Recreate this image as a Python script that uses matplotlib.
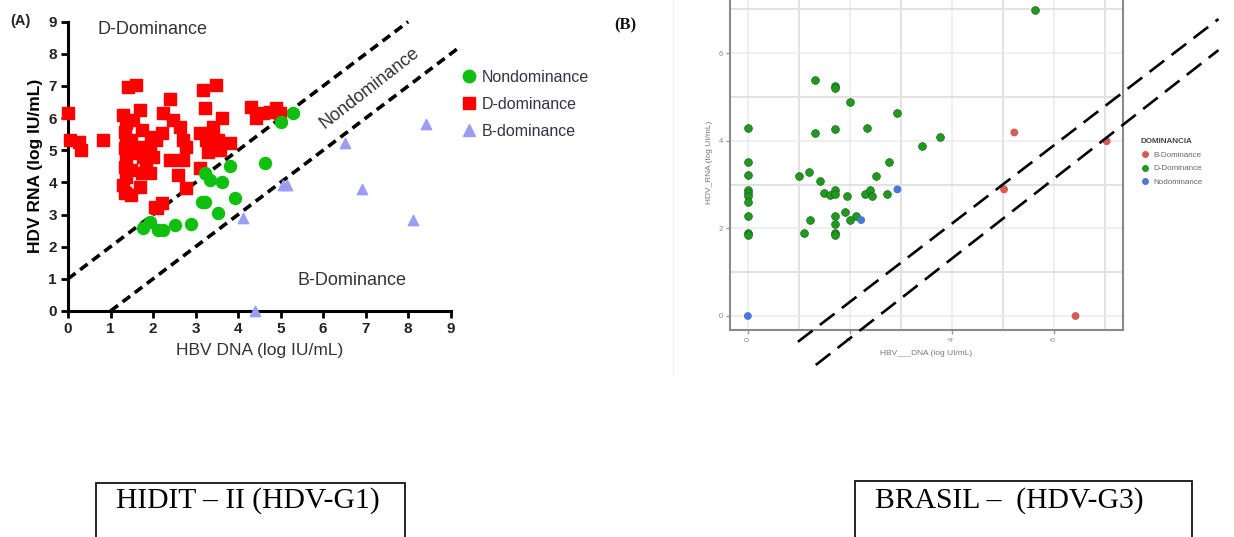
import numpy as np
import matplotlib.pyplot as plt
from matplotlib.lines import Line2D
from matplotlib.patches import Rectangle

W, H = 1234, 537

def fx(px):
    return px / W

def fy(py):
    return 1 - py / H

# ---------------- panel A data (HIDIT-II)
d_x = [0, 0.04, 0.27, 0.31, 0.82, 1.41, 1.61, 1.29, 1.37, 1.33, 1.37, 1.33, 1.37, 1.33, 1.37,
       1.29, 1.33, 1.49, 1.49, 1.53, 1.49, 1.53, 1.69, 1.73, 1.69, 1.76, 1.73, 1.69, 1.84, 1.92,
       1.96, 2.0, 1.92, 2.08, 2.2, 2.24, 2.39, 2.47, 2.63, 2.71, 2.78, 2.39, 2.71, 2.59, 2.78,
       2.04, 2.1, 2.2, 3.1, 3.18, 3.22, 3.25, 3.29, 3.1, 3.49, 3.41, 3.53, 3.61, 3.8, 3.57, 3.33,
       4.31, 4.43, 4.59, 4.75, 4.9, 4.98]
d_y = [6.17, 5.32, 5.27, 5.0, 5.32, 6.98, 7.03, 6.1, 5.84, 5.58, 5.32, 5.06, 4.8, 4.49, 4.18,
       3.92, 3.66, 3.61, 4.39, 4.9, 5.32, 5.94, 6.25, 5.63, 5.11, 4.8, 4.28, 3.87, 4.49, 5.11,
       5.42, 4.8, 4.28, 5.32, 5.53, 6.15, 6.61, 5.94, 5.73, 5.32, 5.11, 4.7, 4.7, 4.23, 3.82,
       3.25, 3.2, 3.35, 5.53, 6.87, 6.3, 5.32, 4.96, 4.44, 7.03, 5.73, 5.32, 5.99, 5.22, 5.0, 5.53,
       6.36, 5.99, 6.15, 6.2, 6.3, 6.15]
n_x = [1.76, 1.92, 2.12, 2.24, 2.51, 2.9, 3.14, 3.22, 3.33, 3.22, 3.61, 3.8, 3.92, 3.53, 4.63, 5.02, 5.29]
n_y = [2.57, 2.78, 2.52, 2.52, 2.67, 2.71, 3.4, 3.4, 4.07, 4.28, 4.02, 4.51, 3.5, 3.04, 4.59, 5.89, 6.17]
b_x = [4.12, 4.4, 5.06, 5.14, 6.51, 6.92, 8.12, 8.43]
b_y = [2.88, 0.0, 3.92, 3.92, 5.22, 3.78, 2.83, 5.81]
a_ticks = list(range(10))
a_upper = ([0, 8], [1, 9])
a_lower = ([1, 9.2], [0, 8.2])

# ---------------- panel B data (Brasil)
bg_x = [0, 0, 0, 0, 0, 0, 0, 0, 0, 0,
        1.31, 1.71, 1.71, 2.01, 2.92, 1.31, 1.71, 2.33, 3.42, 3.76,
        2.77, 1.0, 1.2, 2.51, 1.41,
        1.5, 1.6, 1.71, 1.71, 1.95, 2.3, 2.39, 2.43, 2.72,
        1.71, 1.9, 2.01, 2.11, 1.22, 1.71, 1.1, 1.71, 1.71, 5.63]
bg_y = [4.3, 3.52, 3.23, 2.88, 2.8, 2.74, 2.6, 2.29, 1.89, 1.86,
        5.38, 5.25, 5.2, 4.89, 4.63, 4.18, 4.27, 4.3, 3.89, 4.09,
        3.52, 3.2, 3.29, 3.2, 3.09,
        2.8, 2.76, 2.88, 2.78, 2.74, 2.79, 2.88, 2.74, 2.79,
        2.29, 2.38, 2.19, 2.29, 2.19, 2.09, 1.89, 1.89, 1.85, 6.99]
bb_x = [0, 2.93, 2.22]
bb_y = [0, 2.89, 2.19]
br_x = [5.22, 7.03, 5.02, 6.42]
br_y = [4.19, 3.99, 2.89, 0]
b_upper = ([0.98, 9.22], [-0.59, 6.78])
b_lower = ([1.33, 9.22], [-1.12, 6.07])

plt.rcParams['font.family'] = ['Liberation Sans', 'DejaVu Sans']
fig = plt.figure(figsize=(W / 100, H / 100), dpi=100)

# ================= panel A
axA = fig.add_axes([fx(68), fy(311), fx(450.7) - fx(68), fy(21.7) - fy(311)])
axA.scatter(d_x, d_y, marker='s', s=70, color='#ff0000', clip_on=False, zorder=3)
axA.scatter(n_x, n_y, marker='o', s=75, color='#10c010', clip_on=False, zorder=4)
axA.scatter(b_x, b_y, marker='^', s=55, color='#9c9cf2', clip_on=False, zorder=3)
axA.plot(*a_upper, color='black', lw=2.6, ls=(0, (2.6, 1.6)), clip_on=False)
axA.plot(*a_lower, color='black', lw=2.6, ls=(0, (2.6, 1.6)), clip_on=False)
axA.set_xlim(0, 9)
axA.set_ylim(0, 9)
axA.set_xticks(a_ticks)
axA.set_yticks(a_ticks)
for s in ['top', 'right']:
    axA.spines[s].set_visible(False)
for s in ['left', 'bottom']:
    axA.spines[s].set_linewidth(2.2)
axA.tick_params(direction='out', length=5, width=2, labelsize=11, pad=3)
for lab in axA.get_xticklabels() + axA.get_yticklabels():
    lab.set_fontweight('bold')
    lab.set_color('#222222')
axA.set_ylabel('HDV RNA (log IU/mL)', fontsize=12.5, fontweight='bold', labelpad=4)
axA.set_xlabel('HBV DNA (log IU/mL)', fontsize=12.5, color='#333333', labelpad=5)
axA.text(0.7, 8.75, 'D-Dominance', fontsize=13, color='#333333', ha='left', va='center')
axA.text(5.4, 0.95, 'B-Dominance', fontsize=13, color='#333333', ha='left', va='center')
axA.text(7.1, 6.95, 'Nondominance', fontsize=13, color='#333333', ha='center', va='center', rotation=38)
fig.text(fx(10), fy(21), '(A)', fontsize=10.5, fontweight='bold', va='center', color='#222222')

handlesA = [Line2D([], [], marker='o', ls='', color='#10c010', ms=9),
            Line2D([], [], marker='s', ls='', color='#ff0000', ms=8.5),
            Line2D([], [], marker='^', ls='', color='#9c9cf2', ms=8.5)]
legA = fig.legend(handlesA, ['Nondominance', 'D-dominance', 'B-dominance'],
                  loc='upper left', bbox_to_anchor=(fx(455), fy(62)), frameon=False,
                  fontsize=11.5, handlelength=0.8, handletextpad=0.4, labelspacing=0.75,
                  borderpad=0)
for t in legA.get_texts():
    t.set_color('#333344')

# ================= panel B
left, right, bottom = 730, 1123, 330
xlo, xhi = -0.35, 7.35
ylo, yhi = -0.32, 7.35
ppu = 43.8
top = bottom - (yhi - ylo) * ppu
axB = fig.add_axes([fx(left), fy(bottom), fx(right) - fx(left), fy(top) - fy(bottom)])
axB.set_xlim(xlo, xhi)
axB.set_ylim(ylo, yhi)
axB.set_xticks([0, 2, 4, 6])
axB.set_yticks([0, 2, 4, 6])
axB.set_xticks([1, 3, 5, 7], minor=True)
axB.set_yticks([1, 3, 5, 7], minor=True)
axB.grid(True, which='major', color='#ececec', lw=1.2)
axB.grid(True, which='minor', color='#e2e2e2', lw=1.4)
axB.set_axisbelow(True)
for s in axB.spines.values():
    s.set_color('#8a8a8a')
    s.set_linewidth(1.5)
axB.tick_params(which='major', direction='out', length=3, width=1, color='#999999',
                labelsize=5.5, labelcolor='#888888', pad=2)
axB.tick_params(which='minor', length=0)
plt.setp(axB.get_xticklabels(), rotation=90)
axB.scatter(bg_x, bg_y, s=32, color='#1f9a1f', edgecolors='#115511', linewidths=0.4, zorder=3)
axB.scatter(br_x, br_y, s=32, color='#d45c55', edgecolors='none', zorder=3)
axB.scatter(bb_x, bb_y, s=32, color='#4a78d6', edgecolors='none', zorder=3)
axB.plot(*b_upper, color='black', lw=1.9, ls=(0, (7, 3.5)), clip_on=False, zorder=5)
axB.plot(*b_lower, color='black', lw=1.9, ls=(0, (7, 3.5)), clip_on=False, zorder=5)
axB.set_ylabel('HDV_RNA (log UI/mL)', fontsize=6, color='#777777', labelpad=4)
axB.set_xlabel('HBV___DNA (log UI/mL)', fontsize=6, color='#777777', labelpad=6)

handlesB = [Line2D([], [], marker='o', ls='', color='#d45c55', ms=4),
            Line2D([], [], marker='o', ls='', color='#1f9a1f', ms=4),
            Line2D([], [], marker='o', ls='', color='#4a78d6', ms=4)]
legB = fig.legend(handlesB, ['B-Dominance', 'D-Dominance', 'Nodominance'],
                  title='DOMINANCIA', loc='upper left', bbox_to_anchor=(fx(1136), fy(134)),
                  frameon=False, fontsize=5.8, title_fontsize=5.8, handlelength=1.2,
                  handletextpad=0.4, labelspacing=0.75, borderpad=0, alignment='left')
legB.get_title().set_fontweight('bold')
legB.get_title().set_color('#444444')
for t in legB.get_texts():
    t.set_color('#666666')

fig.text(fx(614), fy(25), '(B)', fontsize=12, fontweight='bold', va='center',
         family=['Liberation Serif'], color='#111111')

# faint border of the pasted picture
fig.add_artist(Line2D([fx(673), fx(673)], [fy(0), fy(375)], color='#f0f0f0', lw=1))

# ================= caption boxes
fig.add_artist(Rectangle((fx(96), fy(560)), fx(405) - fx(96), fy(483) - fy(560),
                         fill=False, ec='black', lw=1.2))
fig.add_artist(Rectangle((fx(855), fy(560)), fx(1192) - fx(855), fy(481) - fy(560),
                         fill=False, ec='black', lw=1.2))
fig.text(fx(116), fy(501), 'HIDIT \u2013 II (HDV-G1)', fontsize=21.3, va='center',
         family=['Liberation Serif'])
fig.text(fx(875), fy(501), 'BRASIL \u2013  (HDV-G3)', fontsize=21.3, va='center',
         family=['Liberation Serif'])

fig.savefig('out.png', dpi=100)
